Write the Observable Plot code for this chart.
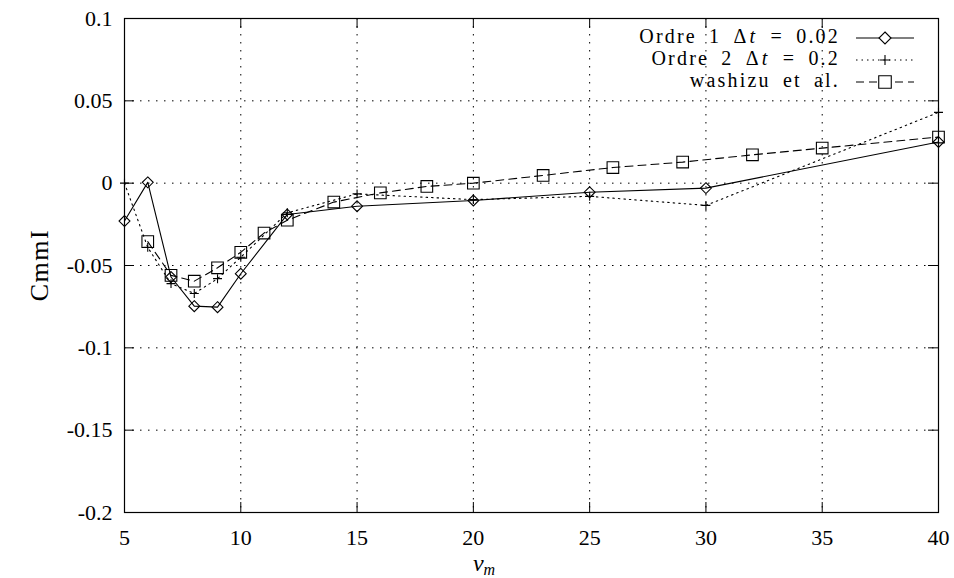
<!DOCTYPE html>
<html>
<head>
<meta charset="utf-8">
<script src="https://cdn.jsdelivr.net/npm/d3@7"></script>
<script src="https://cdn.jsdelivr.net/npm/@observablehq/plot@0.6"></script>
<style>
  html, body { margin: 0; padding: 0; background: #fff; }
  svg text { font-family: "Liberation Serif", "DejaVu Serif", serif; }
</style>
</head>
<body>
<div id="chart"></div>
<script>
// ---- data ----
const x1 = [5, 6, 7, 8, 9, 10, 12, 15, 20, 25, 30, 40];
const ordre1 = [-0.023, 0.0005, -0.057, -0.0747, -0.0753, -0.055, -0.019, -0.014, -0.0105, -0.0055, -0.003, 0.025];

const x2 = [5, 6, 7, 8, 9, 10, 12, 15, 20, 25, 30, 40];
const ordre2 = [0.0, -0.039, -0.061, -0.067, -0.058, -0.045, -0.018, -0.0065, -0.010, -0.008, -0.0135, 0.043];

const x3 = [6, 7, 8, 9, 10, 11, 12, 14, 16, 18, 20, 23, 26, 29, 32, 35, 40];
const washizu = [-0.0355, -0.056, -0.0595, -0.0514, -0.042, -0.0303, -0.0225, -0.0115, -0.0059, -0.002, 0.0, 0.0047, 0.0095, 0.0128, 0.0172, 0.0213, 0.028];

const xTicks = [5, 10, 15, 20, 25, 30, 35, 40];
const yTicks = [-0.2, -0.15, -0.1, -0.05, 0, 0.05, 0.1];

// ---- tables ----
const d1 = x1.map((x, i) => ({x, y: ordre1[i]}));
const d2 = x2.map((x, i) => ({x, y: ordre2[i]}));
const d3s = x3.map((x, i) => ({x, y: washizu[i]}));

const W = 954, H = 578;
const mL = 124, mR = 16, mT = 18, mB = 66;
const innerH = H - mT - mB, innerW = W - mL - mR;
const TL = 10;
const fmt = d => `${+(+d).toFixed(2)}`;
const ff = "Liberation Serif, DejaVu Serif, serif";

const chart = Plot.plot({
  width: W, height: H,
  marginLeft: mL, marginRight: mR, marginTop: mT, marginBottom: mB,
  style: {fontFamily: ff, fontSize: "22px", background: "#fff", color: "#000"},
  x: {domain: [5, 40], label: null},
  y: {domain: [-0.2, 0.1], label: null},
  marks: [
    Plot.gridX(xTicks.filter(t => t > 5 && t < 40), {stroke: "#000", strokeOpacity: 1, strokeDasharray: "1.5,6.5", strokeWidth: 1}),
    Plot.gridY(yTicks.filter(t => t > -0.2 && t < 0.1), {stroke: "#000", strokeOpacity: 1, strokeDasharray: "1.5,6.5", strokeWidth: 1}),
    Plot.frame({stroke: "#000", strokeWidth: 1.2}),
    // inward ticks (mirrored on all sides)
    Plot.tickX(xTicks, {x: d => d, insetTop: innerH - TL, stroke: "#000"}),
    Plot.tickX(xTicks, {x: d => d, insetBottom: innerH - TL, stroke: "#000"}),
    Plot.tickY(yTicks, {y: d => d, insetRight: innerW - TL, stroke: "#000"}),
    Plot.tickY(yTicks, {y: d => d, insetLeft: innerW - TL, stroke: "#000"}),
    Plot.axisX({ticks: xTicks, tickSize: 0, tickPadding: 17, tickFormat: d => String(d), fontSize: 22}),
    Plot.axisY({ticks: yTicks, tickSize: 0, tickPadding: 12, tickFormat: fmt, fontSize: 22}),
    // series
    Plot.line(d1, {x: "x", y: "y", stroke: "#000", strokeWidth: 1.1}),
    Plot.line(d2, {x: "x", y: "y", stroke: "#000", strokeWidth: 1.1, strokeDasharray: "1.5,4"}),
    Plot.line(d3s, {x: "x", y: "y", stroke: "#000", strokeWidth: 1.1, strokeDasharray: "8,5"}),
    Plot.dot(d1, {x: "x", y: "y", symbol: "diamond2", r: 4.9, stroke: "#000", fill: "none", strokeWidth: 1.1}),
    Plot.dot(d2, {x: "x", y: "y", symbol: "plus", r: 3.0, stroke: "#000", fill: "none", strokeWidth: 1.1}),
    Plot.dot(d3s, {x: "x", y: "y", symbol: "square2", r: 7.4, stroke: "#000", fill: "none", strokeWidth: 1.1})
  ]
});

document.getElementById("chart").appendChild(chart);

const svg = d3.select(chart);

// axis titles
svg.append("text")
  .attr("transform", `translate(42,${mT + innerH / 2}) rotate(-90)`)
  .attr("text-anchor", "middle").attr("dominant-baseline", "middle")
  .attr("font-size", 26).attr("letter-spacing", 1.5).attr("font-family", ff).attr("fill", "#000")
  .text("CmmI");

const xl = svg.append("text")
  .attr("x", 484).attr("y", 571)
  .attr("text-anchor", "middle")
  .attr("font-size", 24).attr("font-family", ff).attr("fill", "#000");
xl.append("tspan").attr("font-style", "italic").text("v");
xl.append("tspan").attr("font-style", "italic").attr("font-size", 16).attr("dy", 4).text("m");

// legend
const legY = [38, 60, 82];
const textRight = 840, sx1 = 856, sx2 = 914, smid = (sx1 + sx2) / 2;
const dashes = [null, "1.5,4", "8,5"];
const symbols = [d3.symbolDiamond2, d3.symbolPlus, d3.symbolSquare2];
const sizes = [92, 34, 200];
const labelParts = [
  [["Ordre 1 Δ", null, 0], ["t", "italic", 1], [" = 0.02", null, 1]],
  [["Ordre 2 Δ", null, 0], ["t", "italic", 1], [" = 0.2", null, 1]],
  [["washizu et al.", null, 0]]
];
const leg = svg.append("g");
labelParts.forEach((parts, i) => {
  const t = leg.append("text")
    .attr("x", textRight).attr("y", legY[i])
    .attr("text-anchor", "end").attr("dominant-baseline", "middle")
    .attr("font-size", 20).attr("letter-spacing", 2.2).attr("word-spacing", 5)
    .attr("font-family", ff).attr("fill", "#000");
  parts.forEach(([s, st, dx]) => {
    const sp = t.append("tspan").text(s);
    if (st) sp.attr("font-style", st);
    if (dx) sp.attr("dx", dx);
  });
  const ln = leg.append("line")
    .attr("x1", sx1).attr("x2", sx2).attr("y1", legY[i]).attr("y2", legY[i])
    .attr("stroke", "#000").attr("stroke-width", 1.1);
  if (dashes[i]) ln.attr("stroke-dasharray", dashes[i]);
  leg.append("path")
    .attr("transform", `translate(${smid},${legY[i]})`)
    .attr("d", d3.symbol(symbols[i], sizes[i])())
    .attr("fill", "#fff").attr("stroke", "#000").attr("stroke-width", 1.1);
});
</script>
</body>
</html>
